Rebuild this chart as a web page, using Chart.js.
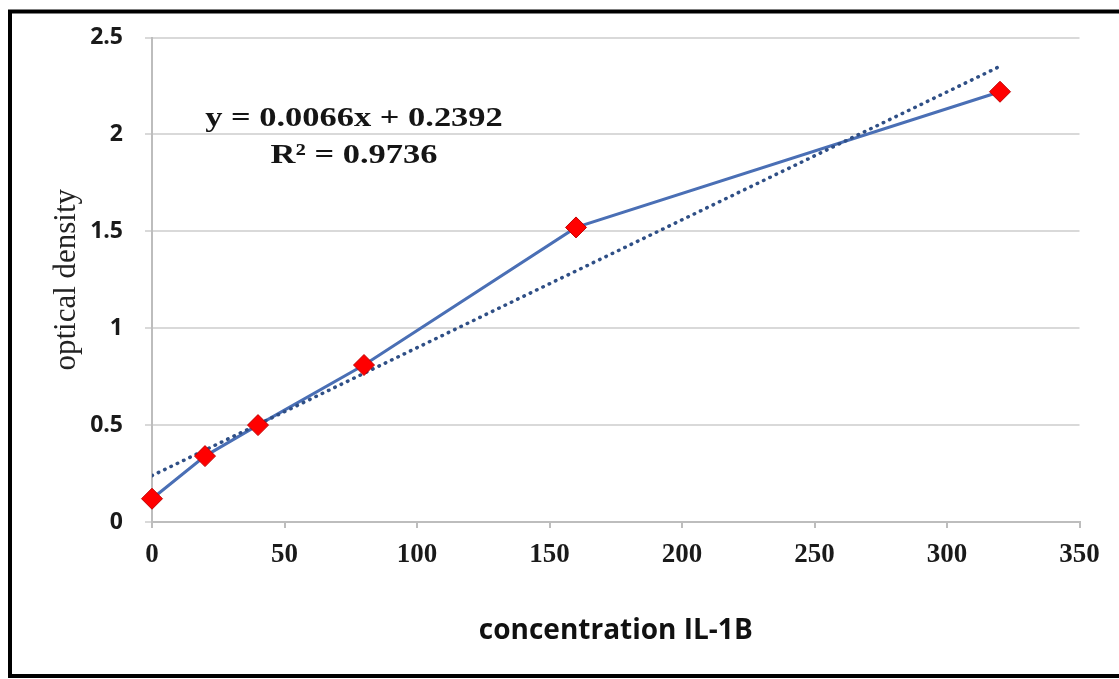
<!DOCTYPE html>
<html><head><meta charset="utf-8">
<script src="https://cdn.jsdelivr.net/npm/chart.js@4.4.1/dist/chart.umd.min.js"></script>
<style>html,body{margin:0;padding:0;background:#fff;overflow:hidden}canvas{display:block}</style>
</head><body>
<canvas id="c" width="1119" height="679"></canvas>
<script>
// ---- data ----
const concentration = [0, 20, 40, 80, 160, 320];
const opticalDensity = [0.12, 0.34, 0.50, 0.81, 1.52, 2.22];
const trendX = [0, 320];
const trendY = [0.2392, 2.3512];
const xTicks = [0, 50, 100, 150, 200, 250, 300, 350];
const yTicks = [0, 0.5, 1, 1.5, 2, 2.5];
const yTickLabels = ['0', '0.5', '1', '1.5', '2', '2.5'];
const equationLines = ['y = 0.0066x + 0.2392', 'R\u00B2 = 0.9736'];
const xTitle = 'concentration IL-1B';
const yTitle = 'optical density';

const points = concentration.map((x, i) => ({x: x, y: opticalDensity[i]}));
const trend = trendX.map((x, i) => ({x: x, y: trendY[i]}));

const framePlugin = {
  id: 'frame',
  afterDraw(chart) {
    const ctx = chart.ctx;
    ctx.save();
    ctx.strokeStyle = '#000';
    ctx.lineWidth = 4;
    ctx.strokeRect(10, 11.5, 1130, 664.5);
    ctx.restore();
  }
};

const equationPlugin = {
  id: 'equation',
  afterDatasetsDraw(chart) {
    const ctx = chart.ctx;
    ctx.save();
    ctx.fillStyle = '#151515';
    ctx.font = 'bold 28px "Liberation Serif", "Times New Roman", serif';
    ctx.textAlign = 'center';
    ctx.textBaseline = 'alphabetic';
    const baselines = [126, 163];
    equationLines.forEach((t, i) => {
      ctx.save();
      ctx.translate(354, baselines[i]);
      ctx.scale(1.23, 1);
      ctx.fillText(t, 0, 0);
      ctx.restore();
    });
    ctx.restore();
  }
};

new Chart(document.getElementById('c'), {
  type: 'scatter',
  data: {
    datasets: [
      {
        label: 'markers',
        data: points,
        showLine: false,
        clip: false,
        pointStyle: 'rectRot',
        pointRadius: 10.5,
        pointBackgroundColor: '#ff0000',
        pointBorderColor: '#c00000',
        pointBorderWidth: 1,
        order: 0
      },
      {
        label: 'trend',
        data: trend,
        showLine: true,
        borderColor: '#2f4f86',
        borderWidth: 3.5,
        borderDash: [0.5, 6.5],
        borderCapStyle: 'round',
        pointRadius: 0,
        fill: false,
        order: 1
      },
      {
        label: 'line',
        data: points,
        showLine: true,
        borderColor: '#4a6fb5',
        borderWidth: 3,
        pointRadius: 0,
        tension: 0,
        fill: false,
        order: 2
      }
    ]
  },
  options: {
    responsive: false,
    animation: false,
    devicePixelRatio: 1,
    layout: { padding: { left: 0, right: 39.5, top: 37.5, bottom: 0 } },
    plugins: { legend: { display: false }, tooltip: { enabled: false } },
    scales: {
      x: {
        type: 'linear',
        min: 0, max: 350,
        afterBuildTicks: s => { s.ticks = xTicks.map(v => ({value: v})); },
        afterFit: s => { s.height = 157; },
        grid: { drawOnChartArea: false, drawTicks: true, tickLength: 6, color: '#bdbdbd', lineWidth: 2 },
        border: { display: true, color: '#bdbdbd', width: 2 },
        ticks: {
          color: '#1a1a1a',
          padding: 11,
          maxRotation: 0,
          callback: v => String(v),
          font: { family: '"Liberation Serif", "Times New Roman", serif', weight: 'bold', size: 27 }
        },
        title: {
          display: true,
          text: xTitle,
          color: '#111',
          padding: { top: 0, bottom: 31 },
          font: { family: '"Open Sans", sans-serif', weight: 'bold', size: 28 }
        }
      },
      y: {
        type: 'linear',
        min: 0, max: 2.5,
        afterBuildTicks: s => { s.ticks = yTicks.map(v => ({value: v})); },
        afterFit: s => { s.width = 152; },
        grid: { drawOnChartArea: true, drawTicks: true, tickLength: 7, color: '#d9d9d9', lineWidth: 2 },
        border: { display: true, color: '#bdbdbd', width: 2 },
        ticks: {
          color: '#1a1a1a',
          padding: 22,
          callback: (v, i) => yTickLabels[i],
          font: { family: '"Open Sans", sans-serif', weight: 'bold', size: 23 }
        },
        title: {
          display: true,
          text: yTitle,
          color: '#222',
          padding: { top: 48, bottom: 0 },
          font: { family: '"Liberation Serif", "Times New Roman", serif', weight: 'normal', size: 31 }
        }
      }
    }
  },
  plugins: [framePlugin, equationPlugin]
});
</script>
</body></html>
